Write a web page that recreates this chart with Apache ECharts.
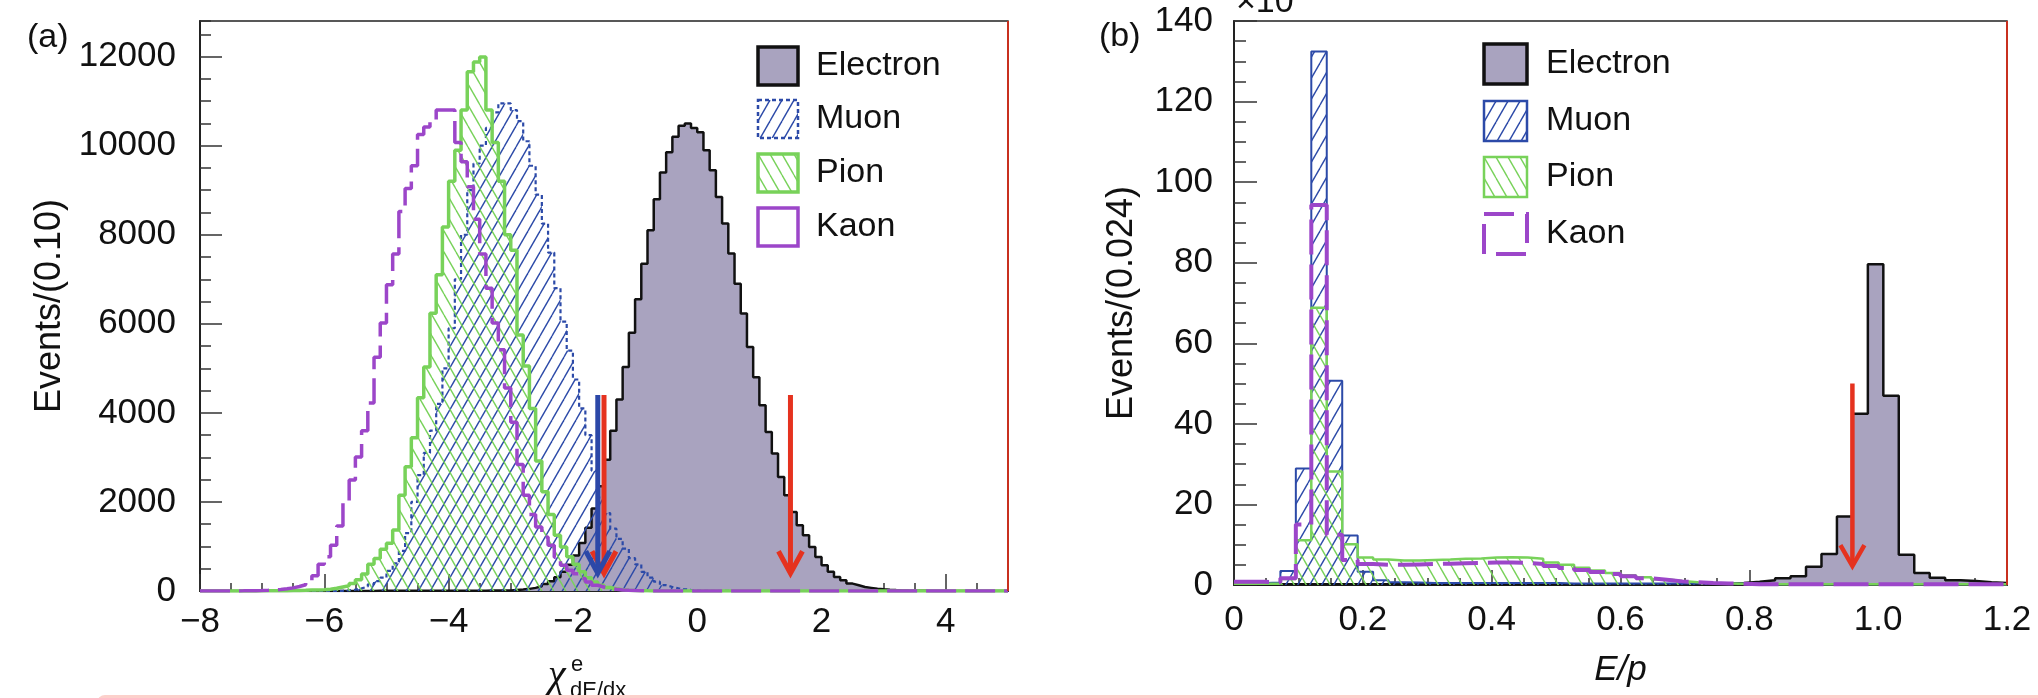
<!DOCTYPE html>
<html><head><meta charset="utf-8">
<script src="https://cdn.jsdelivr.net/npm/echarts@6/dist/echarts.min.js"></script>
<style>html,body{margin:0;padding:0;background:#fff}#c{width:2038px;height:698px}</style>
</head><body><div id="c"></div>
<script>
// ---------------- Panel (a): chi^e_dE/dx, bins of 0.10 from -8 to 5 ----------------
const aBinLo = -8, aBinWidth = 0.1;
const aElectron = [
 0,0,0,0,0,0,0,0,0,0, 0,0,0,0,0,0,0,0,0,0,
 1,1,1,1,2,2,2,2,3,3,
 3,3,3,4,4,4,5,5,5,6,
 6,6,7,7,8,8,9,10,12,14,
 21,32,48,70,105,155,220,310,430,590,
 800,1080,1420,1850,2350,2950,3600,4300,5030,5800,
 6550,7350,8100,8800,9400,9850,10200,10450,10500,10400,
 10300,9900,9450,8850,8250,7580,6900,6230,5480,4800,
 4170,3570,3090,2560,2150,1775,1475,1250,990,765,
 580,430,315,240,166,128,90,70,50,38,
 28,20,14,10,7,5,3,2,1,1,
 0,0,0,0,0,0,0,0,0,0];
const aMuon = [
 0,0,0,0,0,0,0,0,0,0, 0,0,0,0,0,0,0,0,0,0,
 0,0,5,15,30,60,100,150,220,300,
 450,620,900,1300,2000,2600,3100,3600,4200,5000,
 5900,7000,8000,9000,9600,10000,10400,10750,10950,10950,
 10800,10550,10100,9550,8900,8250,7600,6800,6050,5400,
 4750,4100,3500,2700,2100,1750,1400,1170,950,740,
 600,430,300,210,130,90,60,40,25,15,
 10,6,4,2,1,0,0,0,0,0,
 0,0,0,0,0,0,0,0,0,0, 0,0,0,0,0,0,0,0,0,0,
 0,0,0,0,0,0,0,0,0,0, 0,0,0,0,0,0,0,0,0,0];
const aPion = [
 0,0,0,0,0,0,0,0,2,3,
 4,5,6,8,10,12,15,20,25,30,
 40,60,90,120,170,250,380,600,730,940,
 1070,1370,2150,2790,3440,4340,5030,6240,7100,8175,
 9200,9900,10800,11660,11880,11990,10800,10070,9200,8000,
 7650,5750,5050,4100,2920,2230,1720,1250,990,770,
 600,430,300,200,130,80,50,30,18,10,
 6,3,1,0,0,0,0,0,0,0,
 0,0,0,0,0,0,0,0,0,0, 0,0,0,0,0,0,0,0,0,0,
 0,0,0,0,0,0,0,0,0,0, 0,0,0,0,0,0,0,0,0,0,
 0,0,0,0,0,0,0,0,0,0];
const aKaon = [
 0,0,0,0,1,2,3,5,8,12,
 18,25,35,50,70,100,140,190,340,600,
 770,1030,1460,1975,2490,3010,3600,4220,5250,6020,
 6880,7570,8520,9040,9550,10250,10420,10550,10800,10800,
 10800,10070,9640,9080,8350,7570,6800,6020,5420,4560,
 3790,2840,2150,1720,1440,1210,1030,760,580,465,
 390,280,200,130,90,60,40,25,15,10,
 6,4,2,1,0,0,0,0,0,0,
 0,0,0,0,0,0,0,0,0,0, 0,0,0,0,0,0,0,0,0,0,
 0,0,0,0,0,0,0,0,0,0, 0,0,0,0,0,0,0,0,0,0,
 0,0,0,0,0,0,0,0,0,0];
const aArrowX = [-1.5, -1.6, 1.5];          // red, blue, red cut arrows
const aArrowTop = 4400, aArrowTip = 400;

// ---------------- Panel (b): E/p, bins of 0.024 from 0 to 1.2 (x10^3 events) ----------------
const bBinLo = 0, bBinWidth = 0.024;
const bElectron = [
 0.2,0.2,0.2,0.2,0.2,0.2,0.2,0.2,0.2,0.2,
 0.2,0.2,0.2,0.2,0.2,0.2,0.2,0.2,0.2,0.2,
 0.2,0.2,0.2,0.2,0.2,0.2,0.2,0.2,0.2,0.2,
 0.2,0.3,0.5,0.8,1.2,1.7,2.2,4.5,7.7,17.0,
 42.5,79.6,47.0,7.5,3.0,1.8,1.2,1.0,0.7,0.5];
const bMuon = [
 0.5,0.5,0.6,3.5,28.9,132.4,50.7,12.3,3.3,1.2,
 0.7,0.6,0.5,0.5,0.5,0.5,0.5,0.5,0.5,0.5,
 0.5,0.4,0.4,0.4,0.4,0.4,0.4,0.4,0.4,0.4,
 0.4,0.4,0.4,0.4,0.2,0.2,0.2,0.2,0.2,0.2,
 0.2,0.2,0.2,0.2,0.2,0.2,0.2,0.2,0.2,0.2];
const bPion = [
 0.3,0.3,0.3,1.5,11.1,68.8,28.2,10.1,6.8,6.3,
 6.1,6.1,6.2,6.3,6.5,6.6,6.8,6.9,6.8,6.5,
 5.6,5.0,4.3,3.6,3.0,2.4,1.9,1.4,1.0,0.7,
 0.5,0.4,0.3,0.2,0.2,0.2,0.2,0.2,0.2,0.2,
 0.2,0.2,0.2,0.2,0.2,0.2,0.2,0.2,0.2,0.2];
const bKaon = [
 0.8,0.8,0.7,1.7,15.0,94.3,12.5,6.2,5.2,5.0,
 5.0,5.1,5.2,5.3,5.4,5.5,5.6,5.6,5.5,5.2,
 4.7,4.2,3.7,3.2,2.7,2.2,1.7,1.3,0.9,0.7,
 0.5,0.4,0.3,0.2,0.2,0.2,0.2,0.2,0.2,0.2,
 0.2,0.2,0.2,0.2,0.2,0.2,0.2,0.2,0.2,0.2];
const bArrowX = [0.96];
const bArrowTop = 50, bArrowTip = 4.7;

const legendNames = ['Electron', 'Muon', 'Pion', 'Kaon'];

// ---------------- styles ----------------
const FONT = '"Liberation Sans", Arial, Helvetica, sans-serif';
const C = {e:'#a9a3bf', eLine:'#111', mu:'#2c4aa8', pi:'#78d25a', k:'#9c46c9', red:'#e5321f', blue:'#2c48a8', txt:'#111'};

function hatch(color, dir, w, h, lw) {
  const cv = document.createElement('canvas'); cv.width = w; cv.height = h;
  const g = cv.getContext('2d'); g.strokeStyle = color; g.lineWidth = lw;
  [-w, 0, w].forEach(o => {
    g.beginPath();
    if (dir === '/') { g.moveTo(o, h); g.lineTo(o + w, 0); }
    else { g.moveTo(o, 0); g.lineTo(o + w, h); }
    g.stroke();
  });
  return {image: cv, repeat: 'repeat'};
}
const muHatch = hatch(C.mu, '/', 12, 21, 1.4);
const piHatch = hatch(C.pi, '\\', 12, 21, 1.4);

function stepData(lo, w, vals) {
  const d = vals.map((v, i) => [+(lo + i * w).toFixed(5), v]);
  d.push([+(lo + vals.length * w).toFixed(5), vals[vals.length - 1]]);
  return d;
}
function hist(name, lo, w, vals, ax, line, area, z) {
  const s = {name, type:'line', step:'end', xAxisIndex:ax, yAxisIndex:ax, data:stepData(lo, w, vals),
    symbol:'none', showSymbol:false, silent:true, animation:false, z, lineStyle:line, clip:true};
  if (area) s.areaStyle = Object.assign({opacity:1, origin:'start'}, area);
  return s;
}
function arrows(ax, xs, top, tip, colors, width, head) {
  return {type:'custom', xAxisIndex:ax, yAxisIndex:ax, silent:true, animation:false, z:20,
    data: xs.map(x => [x, top, tip]),
    renderItem: function (params, api) {
      const x = api.value(0);
      const p1 = api.coord([x, api.value(1)]), p2 = api.coord([x, api.value(2)]);
      const c = colors[params.dataIndex];
      return {type:'group', children:[
        {type:'line', shape:{x1:p1[0], y1:p1[1], x2:p2[0], y2:p2[1] - 3}, style:{stroke:c, lineWidth:width}},
        {type:'polyline', shape:{points:[[p2[0]-head[0], p2[1]-head[1]], [p2[0], p2[1]], [p2[0]+head[0], p2[1]-head[1]]]},
          style:{stroke:c, lineWidth:width, fill:null, lineJoin:'miter'}}
      ]};
    }};
}

const grids = [
  {left:200, top:21, width:808, height:570},
  {left:1234, top:21, width:773, height:564}
];
grids.forEach(g => Object.assign(g, {show:true, borderColor:'#222', borderWidth:1.5, backgroundColor:'transparent'}));

const lbl = {fontSize:35, fontFamily:FONT, color:C.txt};
const tickStyle = {color:'#333', width:1.5};
const minus = v => (v < 0 ? '\u2212' + Math.abs(v) : String(v));

function mainX(gi, min, max, interval, len, margin, fmt, name) {
  return {gridIndex:gi, type:'value', min, max, interval, position:'bottom',
    axisLine:{onZero:false, lineStyle:{color:'#222', width:2}},
    axisTick:{inside:true, length:len, lineStyle:tickStyle},
    axisLabel:Object.assign({margin, formatter:fmt, showMaxLabel: gi === 1, showMinLabel:true}, lbl),
    splitLine:{show:false},
    name: name || '', nameLocation:'middle', nameGap:68,
    nameTextStyle:{fontSize:35, fontFamily:FONT, color:C.txt, fontStyle:'italic'}};
}
function minorX(gi, min, max, interval, len) {
  return {gridIndex:gi, type:'value', min, max, interval, position:'bottom',
    axisLine:{show:false, onZero:false}, axisTick:{inside:true, length:len, lineStyle:tickStyle},
    axisLabel:{show:false}, splitLine:{show:false}};
}
function mainY(gi, min, max, interval, len, margin, name, gap) {
  return {gridIndex:gi, type:'value', min, max, interval, position:'left',
    axisLine:{onZero:false, lineStyle:{color:'#222', width:2}},
    axisTick:{inside:true, length:len, lineStyle:tickStyle},
    axisLabel:Object.assign({margin, showMaxLabel: gi === 1, formatter: v => String(v)}, lbl),
    splitLine:{show:false},
    name, nameLocation:'middle', nameGap:gap,
    nameTextStyle:{fontSize:36, fontFamily:FONT, color:C.txt}};
}
function minorY(gi, min, max, interval, len) {
  return {gridIndex:gi, type:'value', min, max, interval, position:'left',
    axisLine:{show:false, onZero:false}, axisTick:{inside:true, length:len, lineStyle:tickStyle},
    axisLabel:{show:false}, splitLine:{show:false}};
}

const xAxis = [
  mainX(0, -8, 5, 2, 17, 14, minus),
  mainX(1, 0, 1.2, 0.2, 15, 18, v => (v === 0 ? '0' : v.toFixed(1)), 'E/p'),
  minorX(0, -8, 5, 0.5, 8),
  minorX(1, 0, 1.2, 0.05, 7)
];
const yAxis = [
  mainY(0, 0, 12800, 2000, 22, 24, 'Events/(0.10)', 132),
  mainY(1, 0, 140, 20, 23, 21, 'Events/(0.024)', 94),
  minorY(0, 0, 12800, 500, 11),
  minorY(1, 0, 140, 5, 12)
];

const series = [
  hist('Electron', aBinLo, aBinWidth, aElectron, 0, {color:C.eLine, width:2.5}, {color:C.e}, 2),
  hist('Muon', aBinLo, aBinWidth, aMuon, 0, {color:C.mu, width:2.2, type:[4,3]}, {color:muHatch}, 3),
  hist('Pion', aBinLo, aBinWidth, aPion, 0, {color:C.pi, width:3.5}, {color:piHatch}, 4),
  hist('Kaon', aBinLo, aBinWidth, aKaon, 0, {color:C.k, width:3.5, type:[30,9]}, null, 5),
  arrows(0, aArrowX, aArrowTop, aArrowTip, [C.red, C.blue, C.red], 5, [12, 22]),
  hist('Electron', bBinLo, bBinWidth, bElectron, 1, {color:C.eLine, width:2.5}, {color:C.e}, 2),
  hist('Muon', bBinLo, bBinWidth, bMuon, 1, {color:C.mu, width:2}, {color:muHatch}, 3),
  hist('Pion', bBinLo, bBinWidth, bPion, 1, {color:C.pi, width:2.5}, {color:piHatch}, 4),
  hist('Kaon', bBinLo, bBinWidth, bKaon, 1, {color:C.k, width:4, type:[35,10]}, null, 5),
  arrows(1, bArrowX, bArrowTop, bArrowTip, [C.red], 4.5, [12, 21])
];

// ---------------- legends & annotations ----------------
function text(t, x, y, size, extra) {
  return {type:'text', x, y, z:60, silent:true,
    style:Object.assign({text:t, font:size + 'px ' + FONT, fill:C.txt, align:'left', verticalAlign:'top'}, extra || {})};
}
function box(x, y, w, h, style) {
  return {type:'rect', x, y, z:60, silent:true, shape:{x:0, y:0, width:w, height:h}, style};
}
const legA = {x:758, textX:816, w:40, h:38, rows:[66, 119, 173, 227]};
const legB = {x:1484, textX:1546, w:43, h:40, rows:[64, 121, 177, 234]};
const legStylesA = [
  {fill:C.e, stroke:'#111', lineWidth:3.5},
  {fill:muHatch, stroke:C.mu, lineWidth:2.5, lineDash:[4,3]},
  {fill:piHatch, stroke:C.pi, lineWidth:3.5},
  {fill:'#fff', stroke:C.k, lineWidth:3.5}
];
const legStylesB = [
  {fill:C.e, stroke:'#111', lineWidth:3.5},
  {fill:muHatch, stroke:C.mu, lineWidth:2.5},
  {fill:piHatch, stroke:C.pi, lineWidth:2.5},
  {fill:'#fff', stroke:C.k, lineWidth:4, lineDash:[30,12]}
];
const graphic = [];
[[legA, legStylesA], [legB, legStylesB]].forEach(([L, S]) => {
  legendNames.forEach((n, i) => {
    graphic.push(box(L.x, L.rows[i] - L.h / 2, L.w, L.h, S[i]));
    graphic.push(text(n, L.textX, L.rows[i], 34, {verticalAlign:'middle'}));
  });
});
graphic.push(text('(a)', 27, 21, 34));
graphic.push(text('(b)', 1099, 20, 34));
graphic.push(text('\u00d710', 1236, 20, 34, {verticalAlign:'bottom'}));
graphic.push(text('3', 1295, 4, 24, {verticalAlign:'bottom'}));
// x-axis title of panel (a): chi^e_{dE/dx}
graphic.push(text('\u03c7', 548, 656, 40, {font:'italic 40px "Liberation Serif", "DejaVu Serif", serif'}));
graphic.push(text('e', 571, 654, 22));
graphic.push(text('dE/dx', 570, 680, 22));
// red right-hand frame edges
graphic.push({type:'line', z:40, silent:true, shape:{x1:1008, y1:21, x2:1008, y2:591}, style:{stroke:'#c8301f', lineWidth:2}});
graphic.push({type:'line', z:40, silent:true, shape:{x1:2007, y1:21, x2:2007, y2:585}, style:{stroke:'#c8301f', lineWidth:2}});
// pink band at the bottom edge of the picture
graphic.push({type:'rect', z:100, silent:true, shape:{x:97, y:695, width:1980, height:30, r:8}, style:{fill:'#fcd0cb'}});

const chart = echarts.init(document.getElementById('c'), null, {renderer:'canvas', width:2038, height:698});
chart.setOption({
  animation:false,
  backgroundColor:'#fff',
  grid:grids, xAxis, yAxis, series, graphic
});
</script></body></html>
